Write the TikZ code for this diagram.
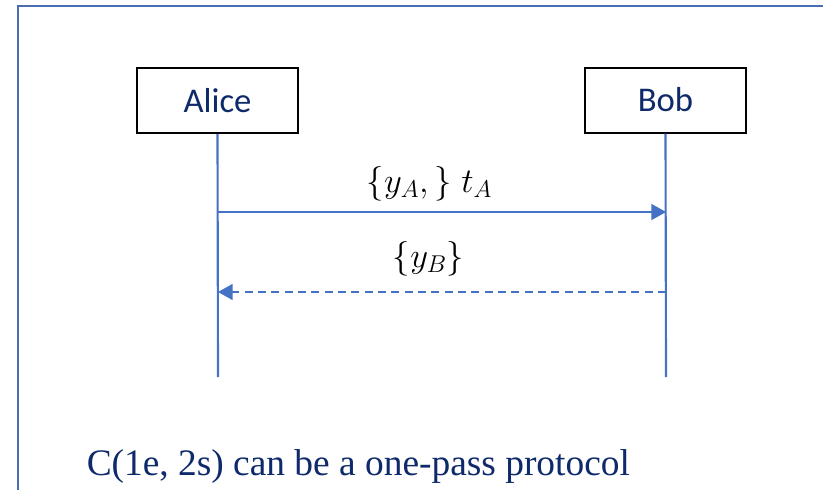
\RequirePackage{fix-cm}
\documentclass[tikz,border=0pt]{standalone}
\usepackage{fontspec}
\setmainfont{Liberation Serif}
\newfontfamily\boxfont{Carlito}
\usetikzlibrary{arrows.meta}
\definecolor{framecol}{HTML}{4A6DB4}
\definecolor{linecol}{HTML}{4472C4}
\definecolor{navy}{HTML}{0E2A6B}
\tikzset{
  actor/.style={draw=black, line width=1.5pt, minimum width=161*0.75pt, minimum height=65*0.75pt,
    inner sep=0pt, font=\boxfont\fontsize{26}{30}\selectfont, text=navy},
  lifeline/.style={draw=linecol, line width=1.6pt},
  msg/.style={draw=linecol, line width=1.3pt, -{Triangle[length=11pt,width=12pt]}},
  reply/.style={msg, dash pattern=on 6pt off 4pt},
  msglabel/.style={font=\fontsize{26}{30}\selectfont, text=black, inner sep=0pt},
}
\begin{document}
\begin{tikzpicture}[x=0.75pt, y=-0.75pt]
\useasboundingbox (0,0) rectangle (823,490);
% frame
\draw[framecol, line width=1.8pt] (18,490) -- (18,6) -- (823,6);
% actors
\node[actor] (alice) at (217.5,100.5) {Alice};
\node[actor] (bob) at (665.5,100) {Bob};
\coordinate (aend) at (218,377);
\coordinate (bend) at (666,377);
\draw[lifeline] (alice.south) -- (aend);
\draw[lifeline] (bob.south) -- (bend);
% message points
\coordinate (a1) at (218,212);
\coordinate (b1) at (666,212);
\coordinate (a2) at (218,292);
\coordinate (b2) at (666,292);
\draw[msg] (a1) -- (b1);
\draw[reply] (b2) -- (a2);
\node[msglabel, anchor=base] (l1) at (429.5,192) {$\{y_A,\}\;t_A$};
\node[msglabel, anchor=base] (l2) at (428.5,267) {$\{y_B\}$};
% bottom text
\node[anchor=base west, inner sep=0pt, text=navy, font=\fontsize{28.05}{32}\selectfont] (note) at (86.5,475) {C(1e, 2s) can be a one-pass protocol};
\end{tikzpicture}
\end{document}
